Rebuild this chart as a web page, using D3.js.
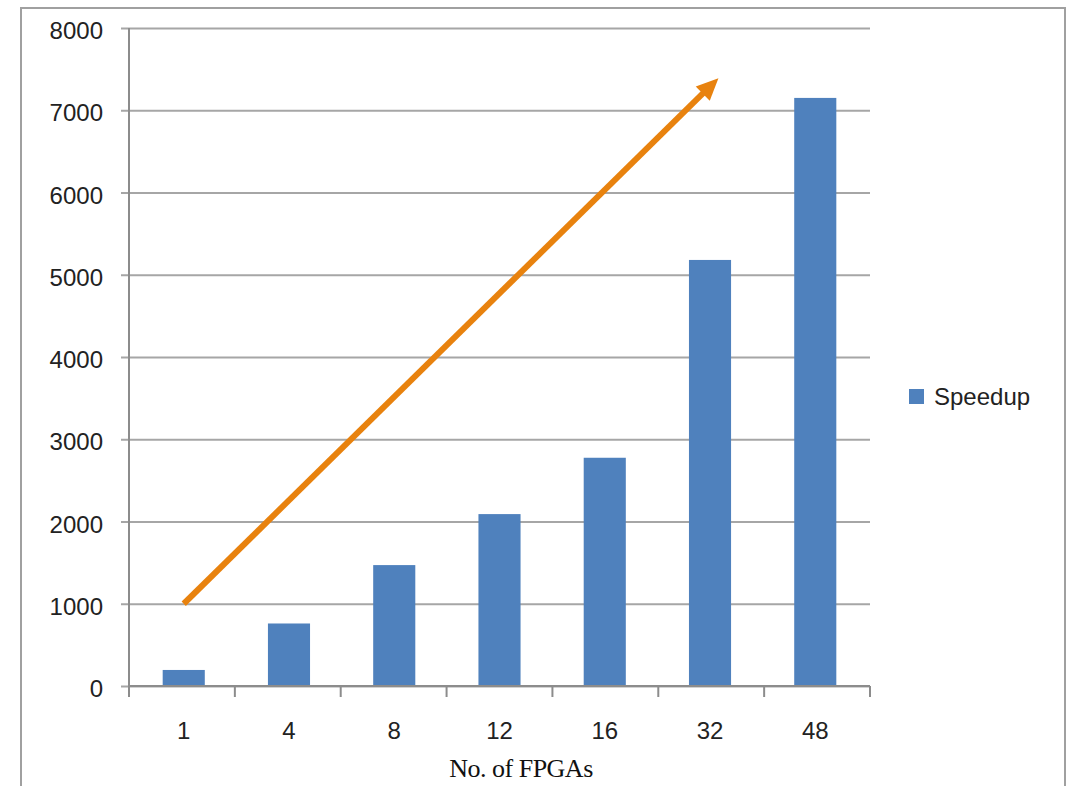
<!DOCTYPE html>
<html>
<head>
<meta charset="utf-8">
<script src="https://cdn.jsdelivr.net/npm/d3@7"></script>
<style>
  html, body { margin: 0; padding: 0; background: #fff; }
  svg { display: block; }
</style>
</head>
<body>
<svg id="chart" width="1072" height="786"></svg>
<script>
// ---- data ----
const categories = ["1", "4", "8", "12", "16", "32", "48"];
const speedup = [195, 760, 1470, 2090, 2775, 5180, 7150];
const yTicks = [0, 1000, 2000, 3000, 4000, 5000, 6000, 7000, 8000];
const seriesName = "Speedup";
const xTitle = "No. of FPGAs";
// trend arrow, in (category index, value) units
const arrowStart = { i: 0, v: 1000 };
const arrowEnd = { i: 5.08, v: 7390 };

// ---- layout ----
const svg = d3.select("#chart");
const L = 129, R = 870, T = 28, B = 686;
const sansFont = "'Liberation Sans', Arial, sans-serif";
const gridColor = "#a6a6a6";
const axisColor = "#8c8c8c";
const barColor = "#4f81bd";
const arrowColor = "#e8820e";

// outer border
svg.append("rect")
  .attr("x", 21).attr("y", 8).attr("width", 1044).attr("height", 800)
  .attr("fill", "none").attr("stroke", "#a0a0a0").attr("stroke-width", 2);

const x = d3.scaleBand().domain(categories).range([L, R])
  .paddingInner(0.6).paddingOuter(0.32);
const y = d3.scaleLinear().domain([0, 8000]).range([B, T]);

// y axis with gridlines
const yAxis = svg.append("g").attr("transform", `translate(${L},0)`)
  .call(d3.axisLeft(y).tickValues(yTicks).tickSizeOuter(0).tickFormat(d3.format("d")));
yAxis.select(".domain").remove();
yAxis.selectAll(".tick line")
  .attr("x1", -8).attr("x2", R - L)
  .attr("stroke", gridColor).attr("stroke-width", 2);
yAxis.selectAll(".tick text")
  .attr("x", -26).attr("y", 2).attr("dy", "0.36em")
  .attr("font-family", sansFont).attr("font-size", 24).attr("fill", "#222");

// bars
svg.append("g").selectAll("rect")
  .data(categories.map((c, i) => ({ c, v: speedup[i] })))
  .join("rect")
  .attr("x", d => x(d.c))
  .attr("y", d => y(d.v))
  .attr("width", x.bandwidth())
  .attr("height", d => y(0) - y(d.v))
  .attr("fill", barColor);

// y axis line
svg.append("line")
  .attr("x1", L).attr("x2", L).attr("y1", T).attr("y2", B + 10)
  .attr("stroke", axisColor).attr("stroke-width", 2);

// x axis
const xAxis = svg.append("g").attr("transform", `translate(0,${B})`)
  .call(d3.axisBottom(x).tickSize(0).tickSizeOuter(0));
xAxis.select(".domain").attr("stroke", axisColor).attr("stroke-width", 2)
  .attr("d", `M${L},0H${R}`);
xAxis.selectAll(".tick text")
  .attr("y", 44).attr("dy", "0.36em")
  .attr("font-family", sansFont).attr("font-size", 24).attr("fill", "#222");
// tick marks at band boundaries
const boundaries = d3.range(categories.length + 1).map(k => L + k * (R - L) / categories.length);
svg.append("g").selectAll("line").data(boundaries).join("line")
  .attr("x1", d => d).attr("x2", d => d)
  .attr("y1", B).attr("y2", B + 11)
  .attr("stroke", axisColor).attr("stroke-width", 2);

// axis title
svg.append("text")
  .attr("x", 521).attr("y", 777)
  .attr("text-anchor", "middle")
  .attr("font-family", "'Liberation Serif', 'Times New Roman', serif")
  .attr("font-size", 26).attr("fill", "#111")
  .attr("letter-spacing", -0.5)
  .text(xTitle);

// legend
svg.append("rect").attr("x", 909).attr("y", 389).attr("width", 15).attr("height", 15).attr("fill", barColor);
svg.append("text")
  .attr("x", 934).attr("y", 396).attr("dy", "0.36em")
  .attr("font-family", sansFont).attr("font-size", 24).attr("fill", "#222")
  .text(seriesName);

// trend arrow
const xi = d3.scaleLinear().domain([0, 1]).range([x(categories[0]) + x.bandwidth() / 2, x(categories[1]) + x.bandwidth() / 2]);
const p0 = [xi(arrowStart.i), y(arrowStart.v)];
const p1 = [xi(arrowEnd.i), y(arrowEnd.v)];
const dx = p1[0] - p0[0], dy = p1[1] - p0[1];
const len = Math.hypot(dx, dy);
const ux = dx / len, uy = dy / len;
const headLen = 22, headHalf = 10;
const base = [p1[0] - ux * headLen, p1[1] - uy * headLen];
svg.append("line")
  .attr("x1", p0[0]).attr("y1", p0[1])
  .attr("x2", base[0] + ux * 2).attr("y2", base[1] + uy * 2)
  .attr("stroke", arrowColor).attr("stroke-width", 6);
svg.append("polygon")
  .attr("points", [
    p1,
    [base[0] - uy * headHalf, base[1] + ux * headHalf],
    [base[0] + uy * headHalf, base[1] - ux * headHalf]
  ].map(p => p.join(",")).join(" "))
  .attr("fill", arrowColor);
</script>
</body>
</html>
